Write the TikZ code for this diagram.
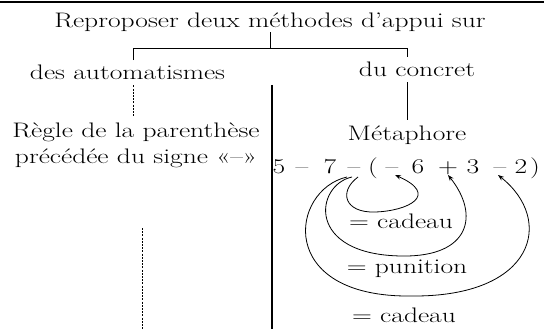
\documentclass[tikz,border=0pt]{standalone}
\usepackage{graphicx}
\usetikzlibrary{arrows.meta}
\tikzset{
  txt/.style={inner sep=0pt,anchor=base,font=\fontsize{21}{25}\selectfont},
  head/.style={txt,inner ysep=5pt},
  lnk/.style={line width=0.9pt},
  thickln/.style={line width=1.3pt},
  dsh/.style={line width=0.7pt,dash pattern=on 2pt off 1.2pt},
  curl/.style={line width=0.8pt,-{Stealth[length=6pt,width=4.5pt]}}
}
\newcommand{\widetxt}[1]{\scalebox{1.31}[1]{#1}}

\begin{document}
\begin{tikzpicture}[x=1pt,y=-1pt]
\useasboundingbox (0,0) rectangle (544,329);
\draw[thickln] (0,2) -- (544,2);
% heading and the two ways
\node[txt] (title) at (270,28) {\widetxt{Reproposer deux méthodes d’appui sur}};
\node[head] (auto) at (127.5,80) {\widetxt{des automatismes}};
\node[head] (concret) at (417,77) {\widetxt{du concret}};
\coordinate (fork) at (270,48); \coordinate (lft) at (133,48); \coordinate (rgt) at (407,48);
\draw[lnk] (title.south) -- (fork);
\draw[lnk] (auto.north -| lft) -- (lft) -- (rgt) -- (concret.north -| rgt);
% left column
\node[head] (regle1) at (136,137) {\widetxt{Règle de la parenthèse}};
\node[txt] (regle2) at (136,163) {\widetxt{précédée du signe «–»}};
\draw[dsh] (auto.south -| lft) -- (lft |- regle1.north);
\coordinate (dtop) at (142,228); \coordinate (dbot) at (142,329);
\draw[dsh] (dtop) -- (dbot);
% separator
\coordinate (mtop) at (272,85); \coordinate (mbot) at (272,329);
\draw[thickln] (mtop) -- (mbot);
% right column
\node[head] (meta) at (407,140) {\widetxt{Métaphore}};
\draw[lnk] (concret.south -| rgt) -- (rgt |- meta.north);
\foreach \t/\x/\n in {5/279/n5, –/302/mA, 7/330/n7, –/354/mB, {(}/373/lp, –/392/mC,
  6/418/n6, +/448/pl, 3/473/n3, –/500/mD, 2/521/n2, {)}/535/rp}
  \node[txt] (\n) at (\x,173) {\widetxt{\t}};
\node[txt] (eq1) at (401,228) {\widetxt{= cadeau}};
\node[txt] (eq2) at (407,273) {\widetxt{= punition}};
\node[txt] (eq3) at (404,322) {\widetxt{= cadeau}};
\draw[curl] ([xshift=4pt,yshift=-4pt]mB.base) .. controls (338,192) and (345,213) .. (375,212)
  .. controls (408,211) and (440,195) .. ([xshift=3pt,yshift=-2pt]mC.base);
\draw[curl] ([xshift=-2pt,yshift=-4pt]mB.base) .. controls (315,185) and (305,255) .. (402,256)
  .. controls (470,257) and (480,215) .. ([yshift=-2pt]pl.base);
\draw[curl] ([xshift=-7pt,yshift=-4pt]mB.base) .. controls (290,190) and (275,298) .. (412,296)
  .. controls (535,297) and (555,220) .. ([xshift=-2pt,yshift=-2pt]mD.base);
\end{tikzpicture}
\end{document}
